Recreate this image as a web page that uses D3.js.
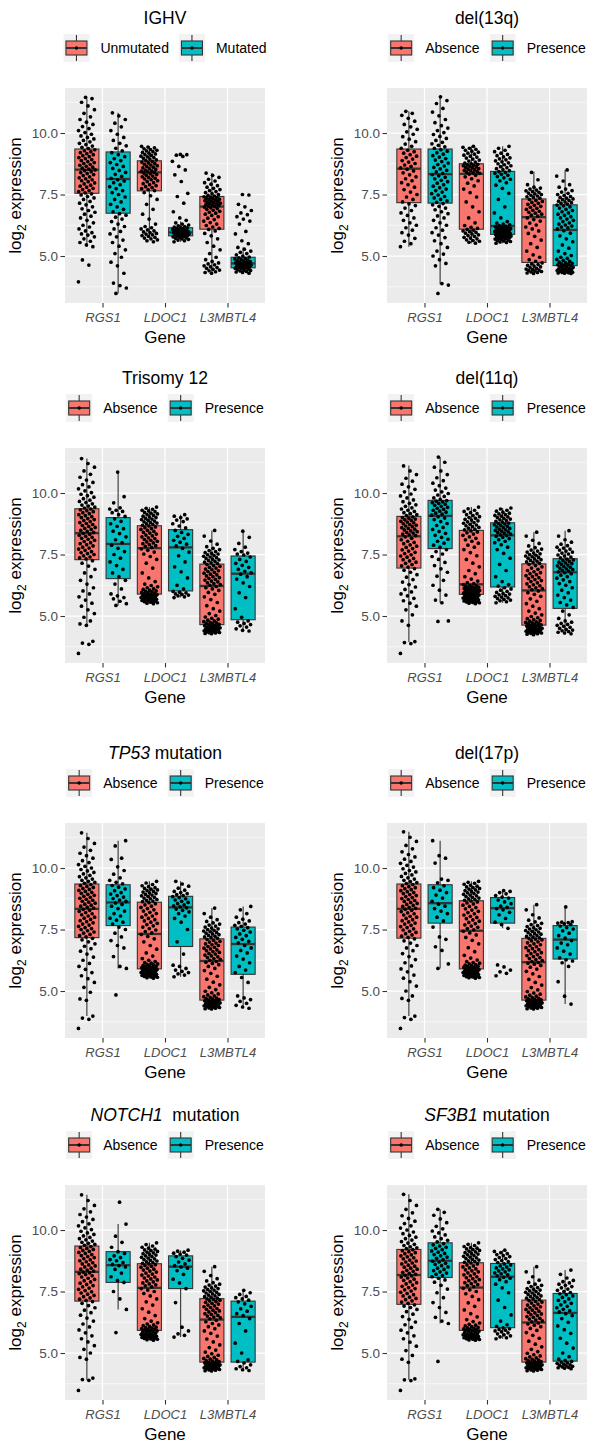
<!DOCTYPE html>
<html><head><meta charset="utf-8">
<script src="https://cdn.jsdelivr.net/npm/d3@7"></script>
<style>body{margin:0;background:#fff}text{font-family:"Liberation Sans",Arial,Helvetica,sans-serif}</style>
</head><body>
<svg id="c" width="603" height="1449"></svg>
<script>
const genes = ["RGS1","LDOC1","L3MBTL4"];
const panelKeys = ["IGHV","del13q","tri12","del11q","tp53","del17p","notch1","sf3b1"];
const titleItalic = ["","","","","TP53","","NOTCH1","SF3B1"];
const titlePlain = ["IGHV","del(13q)","Trisomy 12","del(11q)"," mutation","del(17p)","  mutation"," mutation"];
const groupLabels = [["Unmutated","Mutated"],["Absence","Presence"],["Absence","Presence"],["Absence","Presence"],["Absence","Presence"],["Absence","Presence"],["Absence","Presence"],["Absence","Presence"]];
const groupColors = ["#F8766D","#00BFC4"];
const yMajor = [5.0, 7.5, 10.0];
const yMinor = [3.75, 6.25, 8.75, 11.25];

// box stats: [q1, median, q3, whiskerLow, whiskerHigh]; order RGS1 g0, RGS1 g1, LDOC1 g0, LDOC1 g1, L3MBTL4 g0, L3MBTL4 g1
const stats_IGHV = [[7.55,8.51,9.35,5.38,11.40],[6.74,8.13,9.23,3.48,10.82],[7.65,8.40,8.87,5.85,9.46],[5.82,5.96,6.15,5.58,6.40],[6.09,7.01,7.42,4.32,8.37],[4.52,4.70,4.95,4.30,5.35]];
const stats_del13q = [[7.17,8.55,9.35,5.38,10.88],[7.15,8.33,9.35,3.85,11.47],[6.09,8.34,8.75,5.52,9.46],[5.88,6.22,8.44,5.52,9.46],[4.74,6.58,7.32,4.29,8.44],[4.61,6.06,7.08,4.29,8.50]];
const stats_tri12 = [[7.29,8.37,9.36,4.62,11.40],[6.52,7.93,9.00,5.43,10.85],[5.89,7.76,8.67,5.50,9.43],[6.02,7.79,8.51,5.75,9.12],[4.65,6.22,7.11,4.28,8.48],[4.85,6.72,7.44,4.39,8.45]];
const stats_del11q = [[6.95,8.24,9.05,3.94,11.12],[7.74,9.07,9.70,5.54,11.46],[5.88,6.29,8.48,5.50,9.43],[6.18,8.28,8.79,5.54,9.39],[4.63,6.04,7.12,4.24,8.41],[5.31,6.78,7.33,4.28,8.47]];
const stats_tp53 = [[7.17,8.34,9.35,3.98,11.43],[7.66,8.60,9.32,5.92,11.11],[5.90,7.32,8.61,5.52,9.46],[6.81,8.40,8.85,5.58,9.46],[4.63,6.22,7.12,4.27,8.37],[5.68,6.91,7.60,4.30,8.44]];
const stats_del17p = [[7.15,8.34,9.35,3.98,11.47],[7.76,8.57,9.32,5.92,11.11],[5.90,7.45,8.67,5.52,9.46],[7.76,8.37,8.80,7.55,9.08],[4.63,6.17,7.14,4.27,8.51],[6.30,7.09,7.66,4.47,8.42]];
const stats_notch1 = [[7.11,8.30,9.35,3.89,11.43],[7.87,8.57,9.12,6.77,10.24],[5.92,7.65,8.63,5.52,9.48],[7.62,8.51,8.95,5.65,9.18],[4.63,6.36,7.21,4.27,8.51],[4.63,6.47,7.11,4.29,7.55]];
const stats_sf3b1 = [[6.98,8.17,9.21,3.91,11.45],[8.07,8.75,9.48,6.20,10.84],[5.92,7.66,8.67,5.52,9.48],[6.03,8.10,8.64,5.58,9.18],[4.63,6.24,7.15,4.27,8.51],[4.67,6.63,7.42,4.36,8.37]];

// jittered points (log2 expression), same group order
const pts_IGHV = [
[3.95,4.63,4.84,5.38,5.45,5.55,5.6,5.7,5.78,5.85,5.9,5.95,6.02,6.1,6.18,6.25,6.35,6.45,6.55,6.62,6.7,6.78,6.85,6.92,7.0,7.08,7.15,7.22,7.3,7.36,7.42,7.48,7.53,7.57,7.62,7.66,7.7,7.75,7.8,7.84,7.88,7.93,7.97,8.02,8.06,8.1,8.14,8.18,8.22,8.27,8.31,8.35,8.39,8.43,8.47,8.5,8.53,8.57,8.61,8.65,8.69,8.72,8.76,8.8,8.84,8.88,8.92,8.96,9.0,9.04,9.08,9.12,9.16,9.2,9.24,9.28,9.32,9.37,9.42,9.47,9.53,9.58,9.64,9.7,9.76,9.82,9.88,9.95,10.02,10.1,10.18,10.26,10.35,10.44,10.55,10.66,10.8,10.95,11.1,11.25,11.4,11.45],
[3.48,3.7,3.8,3.9,4.3,4.6,4.75,4.95,5.1,5.25,5.4,5.55,5.65,5.78,5.9,6.0,6.1,6.2,6.3,6.4,6.5,6.58,6.66,6.72,6.8,6.9,7.0,7.1,7.2,7.3,7.4,7.5,7.58,7.66,7.74,7.82,7.9,7.98,8.05,8.1,8.16,8.24,8.32,8.4,8.48,8.56,8.64,8.72,8.8,8.88,8.96,9.04,9.12,9.2,9.28,9.38,9.48,9.58,9.7,9.82,9.95,10.1,10.25,10.4,10.55,10.7,10.82],
[5.58,5.62,5.66,5.7,5.73,5.76,5.8,5.83,5.86,5.89,5.92,5.95,5.98,6.02,6.06,6.1,6.15,6.2,6.3,6.5,6.7,6.9,7.1,7.3,7.45,7.58,7.66,7.7,7.74,7.78,7.82,7.86,7.9,7.94,7.98,8.02,8.06,8.1,8.13,8.16,8.19,8.22,8.25,8.28,8.31,8.34,8.37,8.4,8.42,8.44,8.46,8.49,8.52,8.55,8.58,8.61,8.64,8.67,8.7,8.73,8.76,8.79,8.82,8.85,8.88,8.91,8.94,8.97,9.0,9.03,9.06,9.09,9.12,9.15,9.18,9.21,9.24,9.27,9.3,9.33,9.36,9.4,9.43,9.46],
[5.58,5.62,5.65,5.68,5.7,5.72,5.74,5.76,5.78,5.8,5.81,5.83,5.84,5.86,5.87,5.89,5.9,5.91,5.93,5.94,5.95,5.96,5.97,5.98,6.0,6.01,6.03,6.04,6.06,6.08,6.1,6.12,6.14,6.16,6.18,6.2,6.23,6.26,6.3,6.35,6.45,6.55,6.8,7.15,7.42,7.55,8.03,8.3,8.5,8.64,8.85,9.05,9.1,9.12,9.13],
[4.3,4.33,4.36,4.4,4.43,4.46,4.5,4.53,4.56,4.6,4.64,4.68,4.72,4.78,4.85,4.95,5.1,5.25,5.4,5.55,5.7,5.82,5.92,6.02,6.08,6.12,6.18,6.24,6.3,6.36,6.42,6.48,6.54,6.6,6.65,6.7,6.74,6.78,6.82,6.86,6.9,6.93,6.96,6.99,7.01,7.03,7.05,7.07,7.09,7.11,7.13,7.15,7.17,7.19,7.21,7.23,7.25,7.27,7.29,7.31,7.33,7.35,7.37,7.39,7.41,7.44,7.47,7.5,7.54,7.58,7.62,7.66,7.7,7.75,7.8,7.86,7.92,7.98,8.05,8.12,8.2,8.28,8.37],
[4.3,4.33,4.35,4.37,4.39,4.41,4.43,4.45,4.47,4.49,4.5,4.52,4.53,4.55,4.57,4.58,4.6,4.62,4.63,4.65,4.67,4.68,4.7,4.72,4.73,4.75,4.77,4.79,4.81,4.83,4.85,4.88,4.9,4.93,4.96,5.0,5.05,5.1,5.15,5.2,5.28,5.35,5.5,5.62,5.9,6.0,6.3,6.42,6.5,6.6,6.68,6.75,6.85,7.0,7.1,7.48,7.5]];
const pts_del13q = [
[5.38,5.5,5.6,5.72,5.85,5.95,6.05,6.15,6.25,6.35,6.45,6.55,6.65,6.75,6.85,6.95,7.05,7.12,7.2,7.3,7.4,7.5,7.6,7.7,7.8,7.9,7.98,8.06,8.14,8.22,8.3,8.38,8.46,8.53,8.58,8.64,8.7,8.76,8.82,8.88,8.94,9.0,9.06,9.12,9.18,9.24,9.3,9.38,9.46,9.55,9.65,9.75,9.85,9.95,10.05,10.15,10.25,10.35,10.48,10.6,10.72,10.8,10.88],
[3.48,3.82,3.88,4.6,4.7,4.85,5.0,5.08,5.2,5.35,5.5,5.62,5.75,5.85,5.95,6.05,6.15,6.25,6.35,6.45,6.55,6.63,6.72,6.8,6.88,6.95,7.02,7.08,7.13,7.18,7.24,7.3,7.36,7.42,7.48,7.54,7.6,7.66,7.72,7.78,7.84,7.9,7.96,8.02,8.08,8.14,8.2,8.26,8.31,8.36,8.42,8.48,8.54,8.6,8.66,8.72,8.78,8.84,8.9,8.96,9.02,9.08,9.14,9.2,9.26,9.32,9.38,9.44,9.5,9.56,9.62,9.7,9.78,9.86,9.94,10.02,10.1,10.2,10.3,10.42,10.55,10.7,10.85,11.0,11.2,11.32,11.47],
[5.52,5.56,5.6,5.63,5.66,5.7,5.73,5.76,5.8,5.83,5.86,5.9,5.93,5.96,5.99,6.02,6.05,6.08,6.12,6.17,6.24,6.35,6.55,6.8,7.0,7.2,7.4,7.58,7.72,7.85,7.96,8.06,8.14,8.22,8.28,8.33,8.36,8.38,8.41,8.43,8.46,8.48,8.5,8.53,8.55,8.58,8.6,8.62,8.65,8.67,8.69,8.71,8.73,8.75,8.78,8.82,8.86,8.9,8.94,8.98,9.02,9.06,9.1,9.14,9.18,9.22,9.26,9.3,9.34,9.38,9.42,9.46],
[5.52,5.55,5.57,5.59,5.61,5.63,5.65,5.67,5.69,5.71,5.72,5.74,5.75,5.77,5.78,5.8,5.81,5.83,5.84,5.85,5.86,5.87,5.89,5.9,5.92,5.93,5.95,5.96,5.98,5.99,6.01,6.02,6.04,6.05,6.07,6.08,6.1,6.11,6.13,6.14,6.16,6.18,6.2,6.21,6.24,6.27,6.3,6.34,6.4,6.55,6.75,7.0,7.3,7.55,7.75,7.88,7.98,8.06,8.12,8.18,8.23,8.28,8.32,8.36,8.4,8.43,8.47,8.51,8.55,8.59,8.63,8.67,8.71,8.75,8.79,8.83,8.87,8.91,8.95,8.99,9.03,9.08,9.13,9.18,9.24,9.3,9.38,9.46],
[4.29,4.31,4.33,4.35,4.37,4.39,4.41,4.43,4.45,4.47,4.5,4.53,4.56,4.59,4.62,4.65,4.68,4.72,4.78,4.85,4.95,5.05,5.2,5.35,5.5,5.65,5.8,5.92,6.02,6.1,6.18,6.26,6.34,6.42,6.48,6.55,6.62,6.66,6.7,6.74,6.78,6.82,6.86,6.9,6.94,6.98,7.02,7.06,7.1,7.14,7.18,7.22,7.26,7.3,7.35,7.38,7.41,7.44,7.47,7.5,7.53,7.56,7.59,7.62,7.65,7.68,7.72,7.76,7.8,7.9,8.1,8.4],
[4.29,4.3,4.31,4.32,4.33,4.34,4.36,4.37,4.38,4.4,4.41,4.42,4.44,4.45,4.47,4.48,4.5,4.52,4.54,4.56,4.58,4.6,4.62,4.64,4.66,4.68,4.7,4.72,4.75,4.78,4.82,4.86,4.9,4.95,5.02,5.1,5.2,5.32,5.45,5.58,5.7,5.82,5.93,6.03,6.1,6.14,6.18,6.22,6.26,6.3,6.35,6.4,6.45,6.5,6.55,6.6,6.65,6.7,6.75,6.8,6.85,6.9,6.95,7.0,7.04,7.07,7.11,7.14,7.17,7.2,7.23,7.26,7.29,7.32,7.35,7.38,7.42,7.46,7.5,7.55,7.6,7.66,7.72,7.8,7.9,8.05,8.25,8.5]];
const pts_tri12 = [
[3.48,3.85,3.9,3.97,4.62,4.68,4.8,4.95,5.1,5.25,5.4,5.52,5.65,5.78,5.9,6.02,6.15,6.3,6.45,6.6,6.75,6.9,7.03,7.15,7.25,7.32,7.36,7.4,7.45,7.5,7.54,7.58,7.62,7.67,7.72,7.76,7.8,7.85,7.9,7.94,7.98,8.03,8.08,8.12,8.16,8.2,8.24,8.28,8.32,8.36,8.4,8.44,8.48,8.52,8.56,8.6,8.64,8.68,8.72,8.76,8.8,8.84,8.88,8.92,8.96,9.0,9.04,9.08,9.12,9.16,9.2,9.24,9.28,9.32,9.35,9.39,9.43,9.47,9.51,9.56,9.61,9.66,9.71,9.77,9.83,9.89,9.95,10.02,10.09,10.17,10.25,10.34,10.43,10.53,10.64,10.76,10.9,11.05,11.2,11.4],
[5.43,5.5,5.6,5.7,5.75,5.82,5.9,6.1,6.3,6.45,6.6,6.75,6.9,7.05,7.2,7.35,7.5,7.62,7.75,7.88,7.98,8.1,8.22,8.35,8.45,8.55,8.65,8.75,8.85,8.95,9.05,9.12,9.2,9.25,9.3,9.35,9.4,9.6,9.85,10.85],
[5.5,5.52,5.54,5.56,5.58,5.6,5.62,5.63,5.65,5.66,5.68,5.69,5.71,5.72,5.74,5.75,5.77,5.78,5.8,5.81,5.83,5.84,5.85,5.87,5.88,5.9,5.92,5.94,5.96,5.98,6.0,6.02,6.05,6.08,6.11,6.15,6.19,6.24,6.3,6.4,6.55,6.75,6.95,7.15,7.3,7.42,7.52,7.6,7.67,7.73,7.79,7.83,7.86,7.9,7.94,7.97,8.01,8.04,8.08,8.11,8.15,8.18,8.22,8.26,8.29,8.33,8.37,8.4,8.44,8.48,8.52,8.55,8.59,8.62,8.66,8.69,8.72,8.75,8.78,8.8,8.83,8.86,8.89,8.92,8.94,8.97,9.0,9.03,9.06,9.09,9.12,9.15,9.18,9.21,9.24,9.27,9.3,9.34,9.38,9.43],
[5.75,5.78,5.82,5.85,5.88,5.9,5.94,5.97,6.0,6.1,6.25,6.55,6.8,7.0,7.2,7.45,7.6,7.75,7.85,7.92,8.0,8.08,8.16,8.24,8.32,8.4,8.48,8.58,8.66,8.75,8.84,8.9,8.95,9.0,9.06,9.12],
[4.28,4.29,4.31,4.32,4.33,4.35,4.36,4.37,4.39,4.4,4.41,4.43,4.44,4.46,4.47,4.49,4.5,4.52,4.53,4.55,4.57,4.58,4.6,4.62,4.64,4.66,4.68,4.7,4.72,4.74,4.77,4.8,4.83,4.87,4.91,4.96,5.02,5.1,5.2,5.3,5.42,5.55,5.67,5.78,5.88,5.96,6.04,6.1,6.15,6.2,6.25,6.28,6.32,6.35,6.39,6.42,6.46,6.49,6.53,6.56,6.6,6.63,6.67,6.7,6.74,6.77,6.81,6.84,6.88,6.91,6.95,6.98,7.02,7.05,7.09,7.13,7.16,7.19,7.22,7.25,7.28,7.31,7.34,7.37,7.4,7.43,7.46,7.49,7.52,7.55,7.58,7.62,7.66,7.7,7.75,7.82,7.92,8.05,8.25,8.48],
[4.39,4.42,4.48,4.55,4.6,4.65,4.7,4.75,4.8,4.95,5.3,5.75,5.95,6.2,6.35,6.5,6.6,6.7,6.76,6.82,6.9,6.98,7.06,7.14,7.22,7.3,7.4,7.48,7.52,7.56,7.62,7.7,7.8,7.95,8.2,8.45]];
const pts_del11q = [
[3.48,3.88,3.92,3.96,4.62,4.8,5.05,5.25,5.4,5.52,5.62,5.72,5.82,5.9,5.98,6.08,6.18,6.28,6.38,6.48,6.58,6.68,6.78,6.86,6.93,6.99,7.04,7.09,7.14,7.19,7.24,7.29,7.34,7.39,7.44,7.49,7.54,7.59,7.64,7.69,7.74,7.79,7.84,7.89,7.94,7.99,8.04,8.1,8.16,8.22,8.27,8.3,8.33,8.37,8.4,8.43,8.46,8.5,8.53,8.56,8.59,8.63,8.66,8.69,8.72,8.75,8.79,8.82,8.85,8.88,8.91,8.94,8.97,9.0,9.03,9.08,9.12,9.16,9.2,9.25,9.3,9.35,9.4,9.46,9.52,9.58,9.65,9.72,9.8,9.88,9.96,10.05,10.15,10.25,10.36,10.48,10.6,10.75,10.9,11.1],
[4.78,4.8,5.54,5.65,5.85,6.05,6.25,6.45,6.62,6.78,6.92,7.05,7.18,7.3,7.42,7.52,7.62,7.7,7.8,7.88,7.96,8.04,8.12,8.2,8.28,8.36,8.44,8.52,8.6,8.68,8.76,8.84,8.92,8.98,9.04,9.1,9.14,9.18,9.22,9.26,9.3,9.34,9.38,9.42,9.46,9.5,9.54,9.58,9.61,9.64,9.67,9.69,9.74,9.8,9.86,9.92,9.98,10.05,10.12,10.2,10.3,10.4,10.5,10.62,10.75,10.9,11.05,11.25,11.46],
[5.5,5.52,5.54,5.55,5.57,5.58,5.6,5.61,5.63,5.64,5.66,5.67,5.69,5.7,5.72,5.73,5.75,5.76,5.78,5.79,5.81,5.82,5.84,5.85,5.87,5.89,5.9,5.92,5.93,5.94,5.96,5.97,5.98,6.0,6.01,6.03,6.04,6.06,6.07,6.09,6.1,6.12,6.13,6.15,6.17,6.19,6.21,6.23,6.25,6.28,6.32,6.36,6.42,6.5,6.6,6.72,6.85,7.0,7.15,7.3,7.45,7.58,7.7,7.8,7.88,7.96,8.04,8.1,8.16,8.22,8.28,8.33,8.38,8.42,8.46,8.5,8.53,8.57,8.6,8.63,8.67,8.7,8.73,8.77,8.8,8.83,8.87,8.9,8.93,8.97,9.0,9.04,9.08,9.12,9.16,9.2,9.25,9.3,9.36,9.43],
[5.54,5.58,5.62,5.65,5.68,5.71,5.74,5.77,5.8,5.83,5.86,5.89,5.92,5.96,6.0,6.05,6.1,6.15,6.22,6.28,6.4,6.6,6.85,7.1,7.35,7.55,7.7,7.8,7.9,7.98,8.04,8.1,8.15,8.2,8.24,8.27,8.3,8.33,8.36,8.39,8.42,8.45,8.48,8.5,8.53,8.56,8.59,8.62,8.65,8.68,8.71,8.74,8.76,8.78,8.82,8.85,8.88,8.91,8.94,8.97,9.0,9.03,9.06,9.09,9.12,9.15,9.18,9.22,9.26,9.3,9.35,9.39],
[4.24,4.26,4.28,4.29,4.31,4.32,4.34,4.35,4.37,4.38,4.4,4.41,4.43,4.44,4.46,4.47,4.49,4.5,4.52,4.54,4.55,4.57,4.59,4.6,4.62,4.64,4.66,4.68,4.7,4.72,4.74,4.76,4.79,4.82,4.85,4.89,4.93,4.98,5.05,5.12,5.2,5.3,5.4,5.5,5.6,5.7,5.8,5.88,5.95,6.02,6.07,6.11,6.15,6.19,6.23,6.27,6.31,6.35,6.4,6.44,6.48,6.52,6.56,6.6,6.64,6.68,6.72,6.76,6.8,6.85,6.9,6.95,7.0,7.05,7.1,7.14,7.17,7.2,7.23,7.26,7.29,7.32,7.35,7.38,7.41,7.44,7.47,7.5,7.53,7.56,7.6,7.64,7.68,7.72,7.78,7.85,7.95,8.08,8.25,8.41],
[4.28,4.31,4.34,4.37,4.4,4.43,4.46,4.5,4.54,4.58,4.62,4.66,4.7,4.75,4.8,4.9,5.05,5.2,5.35,5.45,5.55,5.65,5.75,5.85,5.95,6.05,6.15,6.25,6.32,6.4,6.47,6.54,6.6,6.66,6.72,6.76,6.8,6.83,6.86,6.89,6.92,6.95,6.98,7.01,7.04,7.07,7.1,7.13,7.16,7.19,7.22,7.25,7.28,7.31,7.36,7.4,7.44,7.48,7.52,7.56,7.6,7.64,7.68,7.72,7.76,7.8,7.86,7.92,8.0,8.1,8.25,8.47]];
const pts_tp53 = [
[3.48,3.85,3.9,3.98,4.62,4.68,4.95,5.15,5.35,5.5,5.62,5.75,5.88,6.0,6.12,6.25,6.38,6.5,6.62,6.72,6.82,6.92,7.0,7.08,7.14,7.2,7.25,7.3,7.35,7.4,7.45,7.5,7.54,7.58,7.63,7.68,7.72,7.77,7.82,7.86,7.91,7.96,8.0,8.05,8.1,8.14,8.19,8.24,8.28,8.32,8.37,8.41,8.45,8.49,8.53,8.57,8.61,8.65,8.69,8.73,8.77,8.81,8.85,8.89,8.93,8.97,9.01,9.05,9.09,9.13,9.17,9.21,9.25,9.29,9.33,9.38,9.42,9.46,9.5,9.55,9.6,9.65,9.7,9.76,9.82,9.88,9.94,10.0,10.07,10.14,10.22,10.3,10.4,10.5,10.6,10.72,10.85,11.0,11.2,11.43],
[4.84,5.92,6.0,6.4,6.75,6.85,7.05,7.2,7.35,7.5,7.6,7.72,7.8,7.88,7.96,8.05,8.15,8.25,8.35,8.45,8.52,8.58,8.64,8.7,8.76,8.82,8.88,8.94,9.0,9.08,9.15,9.22,9.29,9.36,9.42,9.5,9.6,9.75,9.9,10.05,10.35,10.4,10.9,11.11],
[5.52,5.54,5.56,5.57,5.59,5.6,5.62,5.63,5.65,5.66,5.68,5.69,5.71,5.72,5.74,5.75,5.77,5.78,5.8,5.81,5.83,5.84,5.86,5.87,5.89,5.91,5.92,5.94,5.95,5.97,5.98,6.0,6.02,6.04,6.06,6.08,6.1,6.13,6.16,6.2,6.25,6.32,6.42,6.55,6.7,6.85,7.0,7.12,7.22,7.3,7.36,7.42,7.48,7.54,7.6,7.65,7.7,7.75,7.8,7.85,7.9,7.95,8.0,8.05,8.1,8.15,8.2,8.25,8.3,8.35,8.4,8.45,8.5,8.55,8.59,8.63,8.66,8.69,8.72,8.75,8.78,8.81,8.84,8.87,8.9,8.93,8.96,8.99,9.02,9.05,9.08,9.11,9.14,9.17,9.2,9.24,9.28,9.33,9.39,9.46],
[5.58,5.65,5.7,5.75,5.8,5.85,5.92,6.0,6.05,6.5,7.0,7.5,7.8,7.95,8.05,8.15,8.22,8.28,8.33,8.38,8.42,8.46,8.5,8.55,8.6,8.65,8.7,8.75,8.8,8.84,8.88,8.92,8.96,9.0,9.05,9.1,9.18,9.26,9.35,9.46],
[4.27,4.28,4.3,4.31,4.33,4.34,4.36,4.37,4.39,4.4,4.42,4.43,4.45,4.46,4.48,4.49,4.51,4.52,4.54,4.55,4.57,4.58,4.6,4.61,4.62,4.65,4.67,4.69,4.71,4.74,4.77,4.8,4.84,4.88,4.93,4.99,5.06,5.15,5.25,5.36,5.48,5.6,5.72,5.83,5.92,6.0,6.07,6.12,6.17,6.2,6.25,6.29,6.32,6.36,6.39,6.43,6.46,6.5,6.53,6.57,6.6,6.64,6.67,6.71,6.74,6.78,6.81,6.85,6.88,6.92,6.95,6.99,7.02,7.06,7.1,7.14,7.17,7.2,7.23,7.26,7.29,7.32,7.35,7.38,7.41,7.44,7.47,7.5,7.53,7.56,7.6,7.64,7.68,7.72,7.77,7.83,7.9,8.0,8.15,8.37],
[4.3,4.35,4.42,4.5,4.58,4.65,4.72,4.8,5.35,5.55,5.75,5.85,6.0,6.15,6.3,6.42,6.55,6.65,6.75,6.85,6.96,7.02,7.1,7.18,7.25,7.32,7.4,7.47,7.53,7.58,7.63,7.67,7.72,7.78,7.85,7.92,8.0,8.15,8.3,8.44]];
const pts_del17p = [
[3.48,3.85,3.92,3.98,4.62,4.7,4.8,5.0,5.2,5.38,5.52,5.65,5.78,5.9,6.02,6.15,6.28,6.4,6.52,6.64,6.75,6.85,6.95,7.04,7.12,7.18,7.23,7.28,7.33,7.38,7.43,7.48,7.53,7.58,7.62,7.67,7.72,7.76,7.81,7.86,7.9,7.95,8.0,8.04,8.09,8.14,8.18,8.23,8.28,8.32,8.36,8.4,8.44,8.48,8.52,8.56,8.6,8.64,8.68,8.72,8.76,8.8,8.84,8.88,8.92,8.96,9.0,9.04,9.08,9.12,9.16,9.2,9.24,9.28,9.33,9.37,9.41,9.45,9.5,9.55,9.6,9.66,9.72,9.78,9.84,9.9,9.97,10.04,10.11,10.19,10.27,10.36,10.45,10.55,10.66,10.78,10.92,11.08,11.25,11.47],
[5.92,6.1,6.65,6.8,7.1,7.2,7.6,7.85,8.0,8.15,8.25,8.35,8.45,8.53,8.65,8.78,8.9,9.0,9.1,9.2,9.28,9.4,9.5,9.55,10.2,10.4,10.5,11.11],
[5.52,5.54,5.55,5.57,5.58,5.6,5.61,5.63,5.64,5.66,5.67,5.69,5.7,5.72,5.73,5.75,5.76,5.78,5.79,5.81,5.82,5.84,5.85,5.87,5.89,5.91,5.93,5.94,5.96,5.97,5.99,6.01,6.03,6.05,6.07,6.1,6.13,6.16,6.2,6.26,6.34,6.45,6.6,6.76,6.92,7.06,7.18,7.28,7.36,7.43,7.49,7.54,7.59,7.64,7.69,7.74,7.79,7.84,7.89,7.94,7.99,8.04,8.09,8.14,8.19,8.24,8.29,8.34,8.39,8.44,8.49,8.54,8.58,8.62,8.66,8.69,8.72,8.75,8.78,8.81,8.84,8.87,8.9,8.93,8.96,8.99,9.02,9.05,9.08,9.11,9.14,9.17,9.2,9.23,9.26,9.3,9.34,9.38,9.42,9.46],
[5.62,5.72,5.78,5.85,5.98,6.06,7.55,7.7,7.8,7.95,8.1,8.2,8.3,8.35,8.4,8.45,8.55,8.62,8.7,8.78,8.82,8.88,8.95,9.0,9.05,9.08],
[4.27,4.28,4.3,4.31,4.33,4.34,4.36,4.37,4.39,4.4,4.42,4.43,4.45,4.46,4.48,4.49,4.51,4.52,4.54,4.55,4.57,4.58,4.6,4.61,4.62,4.64,4.66,4.68,4.7,4.73,4.76,4.79,4.83,4.87,4.92,4.98,5.05,5.14,5.24,5.35,5.47,5.59,5.7,5.8,5.89,5.97,6.04,6.09,6.13,6.16,6.2,6.24,6.28,6.32,6.36,6.4,6.44,6.48,6.52,6.56,6.6,6.64,6.68,6.72,6.76,6.8,6.84,6.88,6.92,6.96,7.0,7.04,7.08,7.11,7.13,7.16,7.19,7.22,7.25,7.28,7.31,7.34,7.37,7.4,7.43,7.46,7.49,7.52,7.55,7.58,7.62,7.66,7.7,7.75,7.81,7.88,7.97,8.1,8.3,8.51],
[4.47,4.79,5.38,6.0,6.15,6.22,6.27,6.35,6.5,6.62,6.75,6.88,6.95,7.05,7.15,7.25,7.35,7.45,7.52,7.58,7.64,7.7,7.73,7.76,7.78,7.8,7.82,8.42]];
const pts_notch1 = [
[3.48,3.89,3.92,3.98,4.75,4.82,5.0,5.15,5.3,5.45,5.58,5.7,5.82,5.94,6.06,6.18,6.3,6.42,6.54,6.64,6.74,6.84,6.93,7.02,7.09,7.14,7.19,7.24,7.29,7.34,7.39,7.44,7.49,7.54,7.59,7.64,7.69,7.74,7.79,7.84,7.89,7.94,7.99,8.04,8.09,8.14,8.19,8.23,8.26,8.29,8.33,8.37,8.41,8.45,8.5,8.54,8.58,8.62,8.67,8.71,8.75,8.79,8.84,8.88,8.92,8.96,9.0,9.05,9.09,9.13,9.17,9.21,9.25,9.29,9.33,9.38,9.42,9.46,9.5,9.55,9.6,9.65,9.7,9.76,9.82,9.88,9.95,10.02,10.09,10.17,10.25,10.34,10.43,10.53,10.63,10.74,10.86,11.0,11.2,11.43],
[5.83,6.77,7.2,7.5,7.87,7.95,8.1,8.25,8.4,8.5,8.55,8.6,8.68,8.75,8.8,8.88,8.95,9.05,9.12,9.3,9.5,9.75,10.24,11.13],
[5.52,5.54,5.56,5.57,5.59,5.6,5.62,5.63,5.65,5.66,5.68,5.69,5.71,5.72,5.74,5.75,5.77,5.78,5.8,5.82,5.84,5.86,5.88,5.9,5.91,5.93,5.95,5.97,5.99,6.01,6.03,6.05,6.08,6.11,6.14,6.18,6.23,6.3,6.4,6.52,6.66,6.8,6.95,7.08,7.2,7.32,7.42,7.5,7.56,7.62,7.69,7.73,7.77,7.81,7.85,7.89,7.93,7.97,8.01,8.05,8.09,8.13,8.17,8.21,8.25,8.29,8.33,8.37,8.41,8.45,8.49,8.53,8.56,8.59,8.62,8.65,8.68,8.71,8.74,8.77,8.8,8.83,8.86,8.89,8.92,8.95,8.98,9.01,9.04,9.07,9.1,9.13,9.16,9.19,9.22,9.26,9.3,9.35,9.41,9.48],
[5.65,5.72,5.78,5.9,6.05,7.05,7.62,7.85,8.0,8.2,8.35,8.45,8.5,8.55,8.62,8.7,8.78,8.85,8.92,8.98,9.02,9.06,9.1,9.14,9.18],
[4.27,4.28,4.3,4.31,4.33,4.34,4.36,4.37,4.39,4.4,4.42,4.43,4.45,4.46,4.48,4.49,4.51,4.52,4.54,4.55,4.57,4.58,4.6,4.61,4.62,4.65,4.67,4.69,4.72,4.75,4.78,4.82,4.86,4.91,4.97,5.04,5.12,5.22,5.33,5.45,5.57,5.69,5.8,5.9,5.99,6.07,6.14,6.2,6.27,6.33,6.39,6.43,6.46,6.5,6.53,6.57,6.6,6.64,6.67,6.71,6.74,6.78,6.81,6.85,6.88,6.92,6.95,6.99,7.02,7.06,7.09,7.12,7.15,7.18,7.2,7.23,7.26,7.29,7.32,7.35,7.38,7.41,7.44,7.47,7.5,7.53,7.56,7.59,7.62,7.65,7.68,7.72,7.76,7.8,7.86,7.93,8.02,8.15,8.32,8.51],
[4.29,4.32,4.36,4.4,4.45,4.52,4.6,4.66,4.72,5.0,5.4,5.9,6.2,6.4,6.52,6.6,6.7,6.8,6.9,7.0,7.08,7.15,7.2,7.25,7.3,7.38,7.45,7.55]];
const pts_sf3b1 = [
[3.48,3.88,3.91,3.95,4.62,4.75,4.9,5.1,5.28,5.44,5.58,5.7,5.82,5.93,6.04,6.15,6.26,6.37,6.48,6.58,6.68,6.77,6.85,6.91,6.96,7.02,7.07,7.12,7.17,7.22,7.27,7.32,7.37,7.42,7.47,7.52,7.57,7.62,7.66,7.71,7.76,7.81,7.86,7.9,7.95,8.0,8.05,8.09,8.13,8.16,8.2,8.24,8.28,8.32,8.36,8.41,8.45,8.49,8.53,8.57,8.62,8.66,8.7,8.74,8.78,8.83,8.87,8.91,8.95,8.99,9.04,9.08,9.12,9.16,9.2,9.24,9.28,9.32,9.37,9.42,9.47,9.53,9.59,9.65,9.71,9.78,9.85,9.92,10.0,10.08,10.17,10.26,10.36,10.47,10.58,10.7,10.84,11.0,11.2,11.45],
[4.66,6.2,6.3,6.45,6.65,6.85,7.05,7.25,7.45,7.6,7.75,7.88,7.97,8.04,8.1,8.15,8.2,8.25,8.3,8.35,8.4,8.45,8.5,8.55,8.6,8.65,8.7,8.73,8.8,8.85,8.9,8.95,9.0,9.05,9.1,9.15,9.2,9.25,9.3,9.35,9.4,9.45,9.52,9.58,9.65,9.72,9.8,9.88,9.96,10.05,10.15,10.3,10.45,10.6,10.72,10.84],
[5.52,5.53,5.55,5.56,5.58,5.59,5.61,5.62,5.64,5.65,5.67,5.68,5.7,5.71,5.73,5.74,5.76,5.77,5.79,5.81,5.83,5.85,5.87,5.89,5.91,5.93,5.94,5.96,5.98,6.0,6.02,6.04,6.07,6.1,6.13,6.17,6.22,6.28,6.36,6.47,6.6,6.75,6.9,7.04,7.17,7.3,7.41,7.5,7.57,7.63,7.7,7.74,7.78,7.82,7.86,7.9,7.94,7.98,8.02,8.06,8.1,8.14,8.18,8.22,8.26,8.3,8.34,8.38,8.42,8.46,8.5,8.54,8.58,8.62,8.66,8.69,8.72,8.75,8.78,8.81,8.84,8.87,8.9,8.93,8.96,8.99,9.02,9.05,9.08,9.11,9.14,9.17,9.2,9.23,9.26,9.29,9.33,9.37,9.42,9.48],
[5.58,5.62,5.66,5.7,5.74,5.78,5.82,5.86,5.9,5.93,5.96,5.99,6.02,6.08,6.15,6.3,6.55,6.85,7.15,7.45,7.65,7.8,7.9,7.98,8.04,8.08,8.14,8.18,8.22,8.26,8.3,8.34,8.38,8.42,8.46,8.5,8.54,8.58,8.62,8.68,8.72,8.76,8.8,8.84,8.88,8.92,8.96,9.0,9.04,9.08,9.13,9.18],
[4.27,4.28,4.3,4.31,4.33,4.34,4.36,4.37,4.39,4.4,4.42,4.43,4.45,4.46,4.48,4.49,4.51,4.52,4.54,4.55,4.57,4.58,4.6,4.61,4.62,4.65,4.67,4.69,4.71,4.74,4.77,4.8,4.84,4.88,4.93,4.99,5.06,5.15,5.25,5.36,5.48,5.6,5.72,5.83,5.92,6.0,6.07,6.13,6.18,6.22,6.27,6.31,6.34,6.38,6.41,6.45,6.48,6.52,6.56,6.59,6.63,6.66,6.7,6.74,6.77,6.81,6.84,6.88,6.92,6.95,6.99,7.03,7.07,7.1,7.13,7.17,7.2,7.23,7.26,7.29,7.32,7.35,7.38,7.41,7.44,7.47,7.5,7.53,7.56,7.59,7.62,7.66,7.7,7.75,7.8,7.87,7.96,8.1,8.3,8.51],
[4.36,4.38,4.4,4.42,4.44,4.46,4.48,4.5,4.52,4.55,4.58,4.6,4.63,4.66,4.7,4.75,4.85,5.0,5.2,5.4,5.6,5.8,5.95,6.1,6.25,6.4,6.52,6.6,6.67,6.72,6.78,6.84,6.9,6.96,7.02,7.08,7.14,7.2,7.26,7.32,7.37,7.41,7.46,7.5,7.55,7.6,7.65,7.7,7.75,7.8,7.85,7.9,7.95,8.05,8.2,8.37]];

const allStats = [stats_IGHV,stats_del13q,stats_tri12,stats_del11q,stats_tp53,stats_del17p,stats_notch1,stats_sf3b1];
const allPts = [pts_IGHV,pts_del13q,pts_tri12,pts_del11q,pts_tp53,pts_del17p,pts_notch1,pts_sf3b1];

const colX = [0, 322];
const rowY = [0, 360, 735, 1097];
const P = {x0: 65, x1: 265, y0: 88, y1: 303};
const yDomain = [3.09, 11.83];
const svg = d3.select("#c");

allStats.forEach((stats, pi) => {
  const ox = colX[pi % 2], oy = rowY[Math.floor(pi / 2)];
  const g = svg.append("g").attr("transform", `translate(${ox},${oy})`);
  const x = d3.scalePoint().domain(genes).range([P.x0, P.x1]).padding(0.6);
  const y = d3.scaleLinear().domain(yDomain).range([P.y1, P.y0]);
  const step = x.step();
  const dodge = 0.25 * step, bw = 0.385 * step, jw = 0.135 * step;

  // panel
  g.append("rect").attr("x", P.x0).attr("y", P.y0).attr("width", P.x1 - P.x0).attr("height", P.y1 - P.y0).attr("fill", "#EBEBEB");
  g.selectAll(".mn").data(yMinor).join("line").attr("x1", P.x0).attr("x2", P.x1)
    .attr("y1", d => y(d)).attr("y2", d => y(d)).attr("stroke", "#fff").attr("stroke-width", 0.6);
  g.selectAll(".mj").data(yMajor).join("line").attr("x1", P.x0).attr("x2", P.x1)
    .attr("y1", d => y(d)).attr("y2", d => y(d)).attr("stroke", "#fff").attr("stroke-width", 1.25);
  g.selectAll(".vx").data(genes).join("line").attr("x1", d => x(d)).attr("x2", d => x(d))
    .attr("y1", P.y0).attr("y2", P.y1).attr("stroke", "#fff").attr("stroke-width", 1.25);

  // boxes
  stats.forEach((s, k) => {
    const gene = genes[Math.floor(k / 2)], grp = k % 2;
    const cx = x(gene) + (grp ? dodge : -dodge);
    const [q1, med, q3, wl, wh] = s;
    g.append("line").attr("x1", cx).attr("x2", cx).attr("y1", y(q3)).attr("y2", y(wh)).attr("stroke", "#333").attr("stroke-width", 1.1);
    g.append("line").attr("x1", cx).attr("x2", cx).attr("y1", y(q1)).attr("y2", y(wl)).attr("stroke", "#333").attr("stroke-width", 1.1);
    g.append("rect").attr("x", cx - bw / 2).attr("y", y(q3)).attr("width", bw).attr("height", y(q1) - y(q3))
      .attr("fill", groupColors[grp]).attr("stroke", "#333").attr("stroke-width", 1.1);
    g.append("line").attr("x1", cx - bw / 2).attr("x2", cx + bw / 2).attr("y1", y(med)).attr("y2", y(med)).attr("stroke", "#333").attr("stroke-width", 2.3);
  });
  // points
  allPts[pi].forEach((vals, k) => {
    const gene = genes[Math.floor(k / 2)], grp = k % 2;
    const cx = x(gene) + (grp ? dodge : -dodge);
    g.selectAll(null).data(vals).join("circle")
      .attr("cx", (d, i) => cx + (((i * 0.6180339887 + k * 0.37) % 1) - 0.5) * 2 * jw)
      .attr("cy", d => y(d)).attr("r", 1.85).attr("fill", "#000");
  });

  // axes
  const ya = g.append("g").attr("transform", `translate(${P.x0},0)`)
    .call(d3.axisLeft(y).tickValues(yMajor).tickFormat(d3.format(".1f")).tickSize(4.5).tickPadding(2.5));
  ya.select(".domain").remove();
  ya.selectAll("line").attr("stroke", "#333").attr("stroke-width", 1.1);
  ya.selectAll("text").attr("font-size", 13.5).attr("fill", "#4D4D4D").attr("font-family", "Liberation Sans, Arial, sans-serif");
  const xa = g.append("g").attr("transform", `translate(0,${P.y1})`)
    .call(d3.axisBottom(x).tickSize(4.5).tickPadding(5));
  xa.select(".domain").remove();
  xa.selectAll("line").attr("stroke", "#333").attr("stroke-width", 1.1);
  xa.selectAll("text").attr("font-size", 13).attr("fill", "#4D4D4D").attr("font-style", "italic").attr("font-family", "Liberation Sans, Arial, sans-serif");

  // axis titles
  g.append("text").attr("x", (P.x0 + P.x1) / 2).attr("y", P.y1 + 40).attr("text-anchor", "middle").attr("font-size", 17).text("Gene");
  const yt = g.append("text").attr("transform", `translate(20.5,${(P.y0 + P.y1) / 2}) rotate(-90)`).attr("text-anchor", "middle").attr("font-size", 17);
  yt.append("tspan").text("log");
  yt.append("tspan").attr("font-size", 12).attr("dy", 5).text("2");
  yt.append("tspan").attr("dy", -5).text(" expression");

  // title
  const tt = g.append("text").attr("x", (P.x0 + P.x1) / 2).attr("y", 24).attr("text-anchor", "middle").attr("font-size", 17.5).style("white-space", "pre");
  if (titleItalic[pi]) tt.append("tspan").attr("font-style", "italic").text(titleItalic[pi]);
  tt.append("tspan").text(titlePlain[pi]);

  // legend
  const labels = groupLabels[pi];
  const lg = g.append("g");
  const keyW = 26, keyH = 28, gapT = 11, gapK = 10, ly = 48;
  const widths = labels.map(l => {
    const t = lg.append("text").attr("font-size", 14).text(l);
    const w = t.node().getComputedTextLength(); t.remove(); return w;
  });
  const total = keyW + gapT + widths[0] + gapK + keyW + gapT + widths[1];
  let lx = (P.x0 + P.x1) / 2 - total / 2;
  labels.forEach((l, i) => {
    const kx = lx;
    lg.append("rect").attr("x", kx).attr("y", ly - keyH / 2).attr("width", keyW).attr("height", keyH).attr("fill", "#F2F2F2");
    lg.append("line").attr("x1", kx + keyW / 2).attr("x2", kx + keyW / 2).attr("y1", ly - keyH / 2 + 1).attr("y2", ly + keyH / 2 - 1).attr("stroke", "#333").attr("stroke-width", 1.1);
    lg.append("rect").attr("x", kx + 2.5).attr("y", ly - 7).attr("width", keyW - 5).attr("height", 14)
      .attr("fill", groupColors[i]).attr("stroke", "#333").attr("stroke-width", 1.1);
    lg.append("line").attr("x1", kx + 2.5).attr("x2", kx + keyW - 2.5).attr("y1", ly).attr("y2", ly).attr("stroke", "#333").attr("stroke-width", 2);
    lg.append("circle").attr("cx", kx + keyW / 2).attr("cy", ly).attr("r", 1.7).attr("fill", "#000");
    lg.append("text").attr("x", kx + keyW + gapT).attr("y", ly + 5).attr("font-size", 14).text(l);
    lx = kx + keyW + gapT + widths[i] + gapK;
  });
});
</script>
</body></html>
